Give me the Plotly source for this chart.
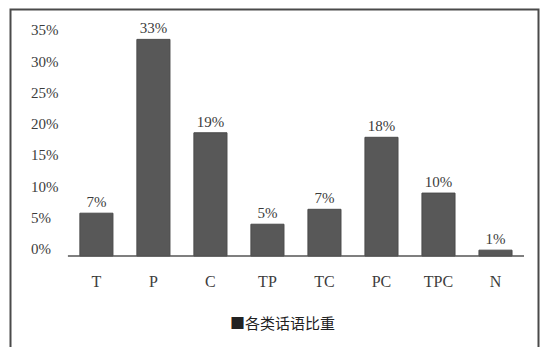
import plotly.graph_objects as go

categories = ["T", "P", "C", "TP", "TC", "PC", "TPC", "N"]
values = [6.6, 33.4, 19.0, 4.9, 7.2, 18.3, 9.7, 0.9]
value_labels = ["7%", "33%", "19%", "5%", "7%", "18%", "10%", "1%"]
tick_vals = [0, 5, 10, 15, 20, 25, 30, 35]
tick_labels = ["0%", "5%", "10%", "15%", "20%", "25%", "30%", "35%"]
series_name = "各类话语比重"

W, H = 540, 347
L, R, T, B = 28, 16, 15, 77
pw, ph = W - L - R, H - T - B
plot_top, plot_bot = T, H - B

def px_x(p):
    return (p - L) / pw

def px_y(p):
    return (plot_bot - p) / ph

def axis_range(px0, px35):
    # value range so that 0 sits at pixel px0 and 35 at pixel px35
    s = (px0 - px35) / 35.0
    return [-(plot_bot - px0) / s, 35 + (px35 - plot_top) / s]

serif = "Liberation Serif, Times New Roman, serif"
txt = "#3c3c3c"

fig = go.Figure()
fig.add_trace(go.Bar(
    x=categories, y=values, text=value_labels, textposition="outside",
    textfont=dict(family=serif, size=15, color=txt),
    marker=dict(color="#585858", line=dict(color="#4a4a4a", width=1)),
    width=0.58, cliponaxis=False, showlegend=False, name=series_name,
))
fig.add_trace(go.Scatter(x=[None], y=[None], yaxis="y2", showlegend=False,
                         hoverinfo="skip"))

fig.update_layout(
    width=W, height=H, margin=dict(l=L, r=R, t=T, b=B),
    paper_bgcolor="white", plot_bgcolor="white",
    xaxis=dict(type="category", range=[-1.2, 7.5], showgrid=False,
               zeroline=False, showline=False, ticks="",
               tickfont=dict(family=serif, size=16, color=txt),
               ticklabelstandoff=0),
    yaxis=dict(range=axis_range(256, 29), showticklabels=False, showgrid=False,
               zeroline=False, showline=False, ticks=""),
    yaxis2=dict(overlaying="y", side="left", range=axis_range(249, 30),
                tickvals=tick_vals, ticktext=tick_labels,
                ticklabelposition="inside", showgrid=False, zeroline=False,
                showline=False, ticks="",
                tickfont=dict(family=serif, size=15, color=txt)),
    shapes=[
        dict(type="line", xref="x", yref="y", x0=-0.5, x1=7.5, y0=0, y1=0,
             line=dict(color="#555555", width=1.5)),
        dict(type="rect", xref="paper", yref="paper",
             x0=px_x(10.5), x1=px_x(538.5), y0=px_y(400), y1=px_y(9.5),
             line=dict(color="#4a4a4a", width=2), layer="above"),
    ],
    annotations=[dict(
        text="■" + series_name, xref="paper", yref="paper",
        x=px_x(282), y=px_y(322), xanchor="center", yanchor="middle",
        showarrow=False,
        font=dict(family="Noto Sans CJK SC", size=15, color="#222222"),
    )],
)

fig.write_html("out.html")
